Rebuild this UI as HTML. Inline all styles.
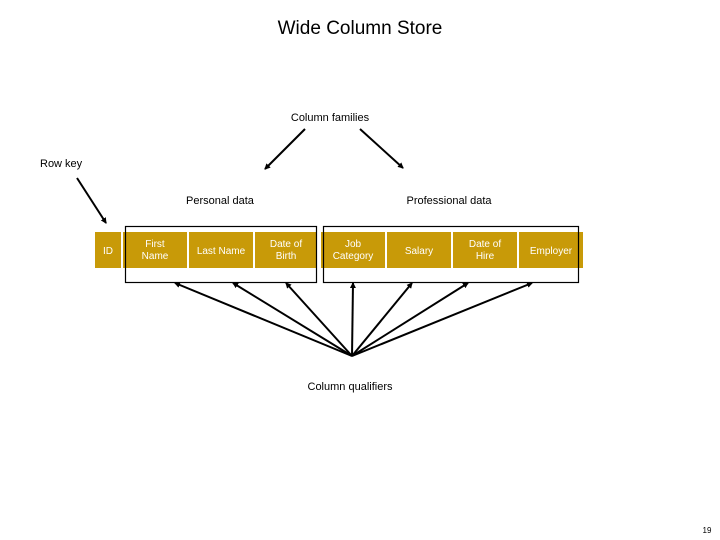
<!DOCTYPE html>
<html><head><meta charset="utf-8"><style>
html,body{margin:0;padding:0;background:#fff;}
svg{display:block;}
text{font-family:"Liberation Sans",sans-serif;fill:#000;}
</style></head><body>
<svg width="720" height="540" viewBox="0 0 720 540" xmlns="http://www.w3.org/2000/svg">
<defs>
<marker id="a" markerWidth="6" markerHeight="6" refX="5" refY="3" orient="auto" markerUnits="userSpaceOnUse">
<path d="M0,0 L6,3 L0,6 z" fill="#000"/>
</marker>
</defs>
<text x="360" y="34" font-size="19" text-anchor="middle">Wide Column Store</text>
<text x="330" y="121" font-size="11" text-anchor="middle">Column families</text>
<text x="40" y="167" font-size="11">Row key</text>
<text x="220" y="204" font-size="11" text-anchor="middle">Personal data</text>
<text x="449" y="204" font-size="11" text-anchor="middle">Professional data</text>
<g stroke="#000" stroke-width="2" fill="none" marker-end="url(#a)">
<line x1="305" y1="129" x2="265" y2="169"/>
<line x1="360" y1="129" x2="403" y2="168"/>
<line x1="77" y1="178" x2="106" y2="223"/>
</g>
<g fill="#c89a08">
<rect x="95" y="232" width="26" height="36"/>
<rect x="123" y="232" width="64" height="36"/>
<rect x="189" y="232" width="64" height="36"/>
<rect x="255" y="232" width="62" height="36"/>
<rect x="321" y="232" width="64" height="36"/>
<rect x="387" y="232" width="64" height="36"/>
<rect x="453" y="232" width="64" height="36"/>
<rect x="519" y="232" width="64" height="36"/>
</g>
<g fill="none" stroke="#000" stroke-width="1.2">
<rect x="125.5" y="226.5" width="191" height="56"/>
<rect x="323.5" y="226.5" width="255" height="56"/>
</g>
<g font-size="10" text-anchor="middle" style="fill:#fff">
<text x="108" y="254" style="fill:#fff">ID</text>
<text x="155" y="247" style="fill:#fff">First</text><text x="155" y="259" style="fill:#fff">Name</text>
<text x="221" y="254" style="fill:#fff">Last Name</text>
<text x="286" y="247" style="fill:#fff">Date of</text><text x="286" y="259" style="fill:#fff">Birth</text>
<text x="353" y="247" style="fill:#fff">Job</text><text x="353" y="259" style="fill:#fff">Category</text>
<text x="419" y="254" style="fill:#fff">Salary</text>
<text x="485" y="247" style="fill:#fff">Date of</text><text x="485" y="259" style="fill:#fff">Hire</text>
<text x="551" y="254" style="fill:#fff">Employer</text>
</g>
<g stroke="#000" stroke-width="2" fill="none" marker-end="url(#a)">
<line x1="352" y1="356" x2="175" y2="283"/>
<line x1="352" y1="356" x2="233" y2="283"/>
<line x1="352" y1="356" x2="286" y2="283"/>
<line x1="352" y1="356" x2="353" y2="283"/>
<line x1="352" y1="356" x2="412" y2="283"/>
<line x1="352" y1="356" x2="468" y2="283"/>
<line x1="352" y1="356" x2="532" y2="283"/>
</g>
<text x="350" y="390" font-size="11" text-anchor="middle">Column qualifiers</text>
<text x="707" y="533" font-size="8" text-anchor="middle">19</text>
</svg>
</body></html>
